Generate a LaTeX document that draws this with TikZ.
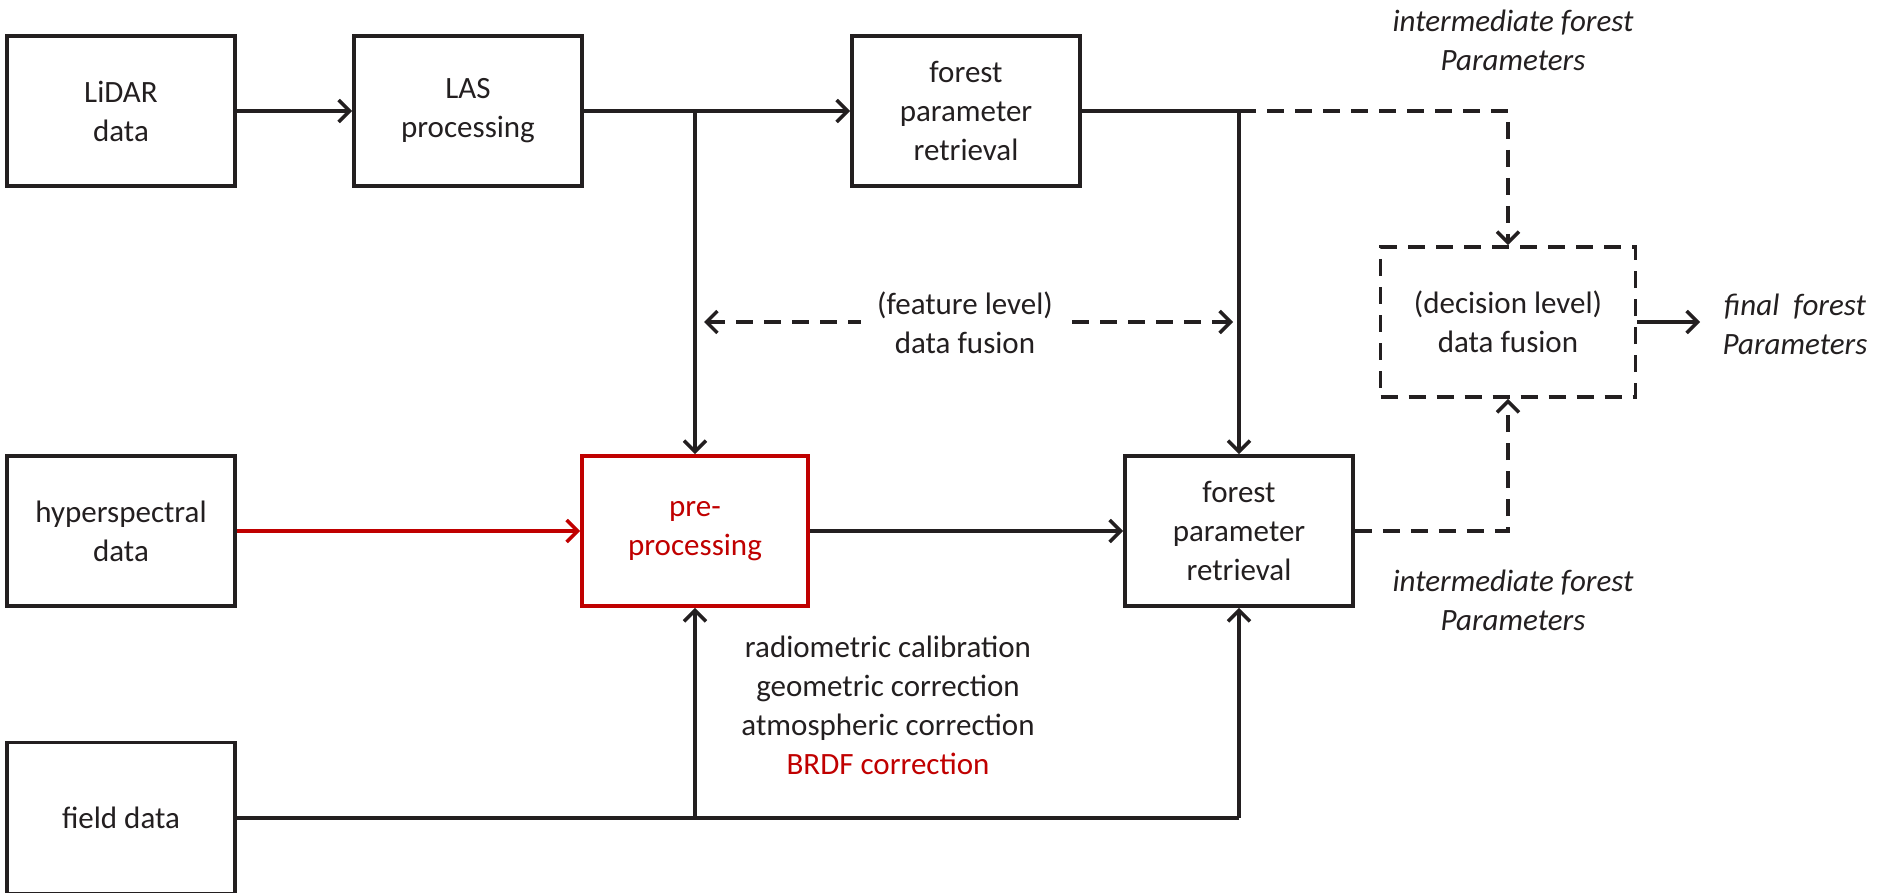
\documentclass[tikz,border=0pt]{standalone}
\usepackage{fontspec}
\setmainfont{Carlito}
\usetikzlibrary{arrows.meta}
\definecolor{dk}{HTML}{231F20}
\definecolor{rd}{HTML}{C00000}
\begin{document}
\begin{tikzpicture}[x=1pt,y=-1pt,
  font=\fontsize{31}{39}\selectfont,
  box/.style={draw=dk, line width=3.8pt, minimum width=228pt, minimum height=150pt, align=center, inner sep=0pt, text=dk},
  ln/.style={draw=dk, line width=3.5pt},
  arr/.style={-{Straight Barb[length=11pt,width=22pt]}},
  darr/.style={{Straight Barb[length=11pt,width=22pt]}-{Straight Barb[length=11pt,width=22pt]}},
  dsh/.style={dash pattern=on 17pt off 11pt},
  lbl/.style={align=center, text=dk, inner sep=0pt},
  ilbl/.style={align=center, text=dk, inner sep=0pt, font=\fontsize{31}{39}\selectfont\itshape}]
\useasboundingbox (0,0) rectangle (1886,893);
% boxes
\node[box] (lidar) at (121,111) {LiDAR\\data};
\node[box] (las) at (468,111) {LAS\\processing};
\node[box] (f1) at (966,111) {forest\\parameter\\retrieval};
\node[box] (hyper) at (121,531) {hyperspectral\\data};
\node[box, draw=rd, text=rd, minimum width=226pt] (pre) at (695,531) {pre-\\processing};
\node[box] (f2) at (1239,531) {forest\\parameter\\retrieval};
\node[box, minimum height=151pt] (field) at (121,818) {field data};
\node[box, dsh, minimum width=255pt] (dec) at (1508,322) {(decision level)\\data fusion};
% texts
\node[ilbl] (int1) at (1513,40) {intermediate forest\\Parameters};
\node[ilbl] (int2) at (1513,600) {intermediate forest\\Parameters};
\node[ilbl] (final) at (1795,324) {final\ \ forest\\Parameters};
\node[lbl] (rad) at (888,705) {radiometric calibration\\geometric correction\\atmospheric correction\\\textcolor{rd}{BRDF correction}};
% junctions
\coordinate (j1) at (695,111);
\coordinate (j2) at (1239,111);
\coordinate (j3) at (695,818);
\coordinate (j4) at (1239,818);
\coordinate (fl) at (704,322);
\coordinate (fr) at (1233,322);
\coordinate (fa) at (1700,322);
% connectors
\draw[ln,arr] (lidar) -- (las);
\draw[ln,arr] (las) -- (f1);
\draw[ln,arr] (j1) -- (pre);
\draw[ln] (f1.east) -- (j2);
\draw[ln,arr] (j2) -- (f2);
\draw[ln,dsh,arr] (j2) -- (dec.north |- j2) -- (dec.north);
\draw[ln,draw=rd,arr] (hyper) -- (pre);
\draw[ln,arr] (pre) -- (f2);
\draw[ln] (field.east |- j3) -- (j4);
\draw[ln,arr] (j3) -- (pre.south);
\draw[ln,arr] (j4) -- (f2.south);
\draw[ln,dsh,arr] (f2.east) -| (dec.south);
\draw[ln,arr] (dec.east) -- (fa);
\draw[ln,dsh,darr] (fl) -- (fr);
\node[lbl, fill=white, inner xsep=16pt, inner ysep=2pt] (feat) at (965,323) {(feature level)\\data fusion};
\end{tikzpicture}
\end{document}
